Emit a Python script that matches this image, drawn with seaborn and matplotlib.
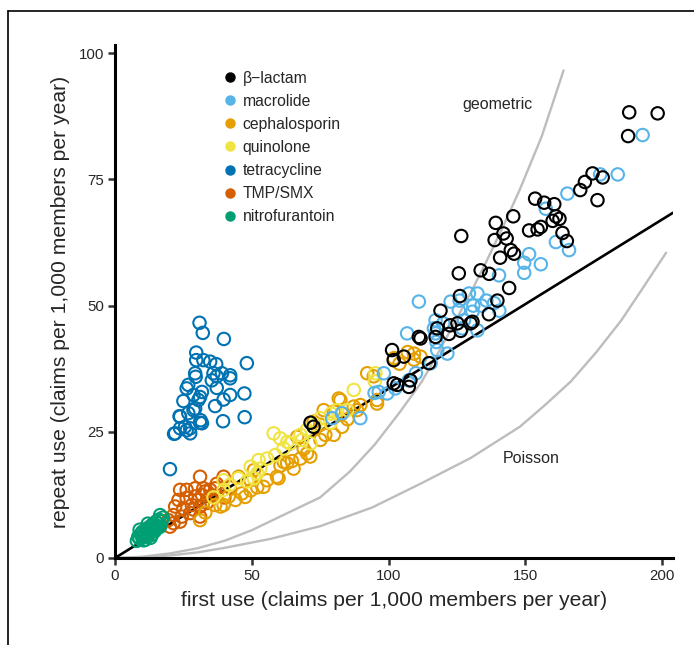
import numpy as np
import pandas as pd
import matplotlib
matplotlib.use("Agg")
import matplotlib.pyplot as plt
from matplotlib.lines import Line2D
import seaborn as sns

sns.set_theme(style="white")
plt.rcParams["font.family"] = ["Liberation Sans", "DejaVu Sans"]

# ── DATA
drugs = ["β−lactam", "macrolide", "cephalosporin", "quinolone",
         "tetracycline", "TMP/SMX", "nitrofurantoin"]
colors = ["#000000", "#56B4E9", "#E69F00", "#F0E442", "#0072B2", "#D55E00", "#009E73"]

tetra_x = [30.9, 32.1, 39.8, 29.7, 29.7, 32.3, 34.8, 37.0, 48.2, 29.3, 29.5, 36.0, 37.2, 39.1, 42.1, 42.1,
           26.8, 26.2, 31.8, 31.1, 28.7, 37.2, 42.1, 47.3, 39.7, 36.6, 25.0, 29.3, 23.6, 26.8, 31.1, 31.3,
           39.5, 47.4, 23.8, 26.2, 22.0, 27.5, 21.6, 25.6, 27.5, 31.8, 23.8, 28.7, 20.1, 30.5, 35.4]
tetra_y = [46.6, 44.6, 43.4, 40.7, 39.2, 39.2, 38.9, 38.4, 38.6, 36.6, 35.9, 36.6, 36.0, 36.6, 36.2, 35.6,
           34.3, 33.6, 32.9, 31.9, 32.3, 33.7, 32.3, 32.6, 31.4, 30.1, 31.1, 29.6, 28.1, 28.7, 26.8, 27.3,
           27.1, 27.9, 25.7, 25.3, 24.7, 24.7, 24.6, 26.0, 25.7, 26.7, 28.0, 29.3, 17.6, 31.3, 35.2]

tmp_x = [31.1, 23.8, 26.2, 29.3, 32.3, 34.8, 39.7, 23.2, 26.2, 29.3, 31.8, 34.8, 22.0, 25.0, 28.1, 31.1,
         33.6, 21.4, 24.4, 27.5, 31.1, 21.4, 23.8, 20.1, 28.7, 30.5, 33.0, 36.6, 37.2, 40.0, 42.0, 19.5]
tmp_y = [16.1, 13.5, 13.5, 13.8, 13.8, 13.5, 16.1, 11.5, 11.9, 12.2, 12.5, 12.2, 10.2, 9.8, 10.5, 10.2,
         10.9, 8.5, 8.2, 8.9, 8.2, 6.9, 7.2, 6.2, 9.6, 11.5, 13.2, 13.8, 14.7, 12.0, 14.0, 7.5]

ceph_x = [31.1, 36.6, 39.7, 44.0, 47.6, 41.6, 49.5, 55.6, 59.8, 62.9, 64.7, 71.4, 75.1, 76.9, 80.0, 81.8,
          80.0, 83.0, 87.3, 89.7, 95.8, 72.6, 75.0, 67.8, 69.0, 60.5, 50.8, 46.4, 38.6, 45.2, 92.2, 94.6,
          109.3, 111.7, 109.3, 102.0, 95.8, 88.5, 82.4, 76.3, 83.0, 85.0, 70.2, 61.7, 65.3, 59.2, 54.3, 52.0,
          49.6, 66.6, 104.0, 107.0, 33.0]
ceph_y = [7.5, 10.5, 10.5, 11.5, 12.1, 12.2, 15.4, 15.4, 15.8, 18.8, 19.2, 20.1, 23.4, 24.4, 24.4, 31.6,
          29.0, 28.6, 30.0, 30.3, 31.3, 27.0, 26.4, 19.7, 21.6, 18.3, 17.4, 12.8, 10.2, 16.1, 36.6, 36.0,
          40.5, 39.9, 39.3, 39.6, 30.6, 29.3, 31.3, 29.3, 26.0, 27.5, 20.7, 19.0, 17.7, 16.1, 14.1, 14.0,
          13.4, 24.0, 38.5, 40.8, 9.0]

quin_x = [58.0, 87.3, 60.4, 67.8, 63.0, 61.6, 58.6, 55.6, 52.5, 53.1, 50.7, 48.3, 45.1, 39.7, 39.7, 75.1,
          78.8, 81.2, 84.9, 73.3, 70.2, 68.4, 95.2, 71.5, 79.0, 64.0, 49.6, 52.0, 95.0, 42.0, 36.0]
quin_y = [24.7, 33.3, 23.7, 24.4, 23.0, 21.7, 20.4, 19.7, 19.4, 17.7, 15.8, 15.2, 15.8, 15.4, 13.5, 27.7,
          26.8, 29.3, 29.3, 26.4, 25.4, 23.4, 36.6, 22.7, 28.6, 22.7, 18.1, 16.8, 35.0, 14.5, 12.0]

macro_x = [192.9, 183.8, 177.4, 165.4, 157.5, 161.2, 166.0, 151.4, 155.7, 149.6, 149.6, 140.4, 129.4, 132.5,
           122.7, 126.0, 131.0, 134.0, 135.8, 138.6, 140.5, 125.7, 130.7, 117.2, 116.6, 120.0, 127.6, 132.5,
           126.9, 111.1, 106.8, 117.2, 121.5, 117.8, 115.4, 110.0, 107.4, 102.5, 99.5, 96.4, 98.3, 89.7,
           79.4, 83.0, 94.9, 117.5]
macro_y = [83.8, 76.0, 76.0, 72.2, 69.2, 62.6, 61.0, 60.2, 58.2, 58.5, 56.5, 56.0, 52.4, 52.4,
           50.8, 51.0, 50.0, 50.0, 51.0, 50.5, 49.0, 49.1, 48.8, 47.1, 45.5, 46.5, 47.1, 45.1,
           45.5, 50.8, 44.5, 44.5, 40.5, 41.2, 38.6, 36.6, 35.2, 33.6, 32.6, 32.9, 36.6, 27.7,
           27.7, 28.7, 32.7, 42.8]

blact_x = [188.0, 198.4, 187.6, 174.6, 178.3, 171.8, 170.1, 176.4, 153.6, 156.9, 160.6, 161.2, 162.5, 160.0,
           155.7, 154.5, 151.4, 163.6, 165.2, 145.6, 139.2, 142.0, 138.8, 143.2, 126.6, 144.7, 145.9, 140.8,
           133.7, 136.8, 125.7, 144.1, 126.1, 139.8, 119.0, 136.7, 130.7, 122.5, 117.8, 126.4, 111.7, 111.1,
           101.3, 105.6, 101.9, 114.8, 117.2, 122.1, 125.2, 130.0, 72.6, 71.5, 101.9, 107.4, 103.2, 108.0]
blact_y = [88.3, 88.1, 83.6, 76.2, 75.4, 74.5, 72.9, 70.9, 71.2, 70.4, 70.1, 67.7, 67.2, 66.8,
           65.6, 65.1, 64.9, 64.4, 62.8, 67.7, 66.4, 64.3, 63.0, 63.3, 63.8, 61.0, 60.3, 59.5,
           57.0, 56.3, 56.4, 53.5, 51.9, 51.0, 49.0, 48.3, 46.8, 46.1, 45.5, 45.0, 43.5, 43.8,
           41.2, 39.9, 39.2, 38.6, 43.8, 44.4, 46.5, 46.5, 26.0, 26.8, 34.6, 33.9, 34.3, 35.2]

nitro_x = [8.0, 8.5, 9.0, 9.5, 10.0, 10.0, 10.5, 11.0, 11.0, 11.5, 12.0, 12.0, 12.5, 13.0, 13.0, 13.5,
           14.0, 14.0, 14.5, 15.0, 15.0, 15.5, 16.0, 16.0, 16.5, 17.0, 17.5, 9.0, 12.0, 10.5, 13.0, 16.5]
nitro_y = [3.4, 4.2, 3.8, 4.8, 4.0, 5.2, 4.5, 3.6, 5.0, 5.8, 4.4, 5.4, 4.9, 5.6, 6.3, 4.6,
           5.9, 6.8, 5.3, 6.4, 7.2, 5.9, 6.8, 7.6, 6.2, 7.3, 8.0, 5.6, 6.8, 3.5, 4.0, 8.5]

# model curves (traced) and fitted line
geom_x = [0, 10, 20, 30, 40, 50, 61.5, 75, 86, 95, 104, 112, 118, 124, 130, 136, 142, 148, 156, 164]
geom_y = [0, 0.25, 0.9, 1.9, 3.4, 5.5, 8.5, 12.0, 17.2, 22.5, 28.8, 34.8, 40.5, 46.5, 52.5, 59.0,
          65.8, 73.0, 83.5, 96.6]
pois_x = [0, 10, 20, 30, 40, 57, 75, 94, 112, 130, 148, 157, 166.7, 176, 185, 193, 201.5]
pois_y = [0, 0.12, 0.5, 1.1, 2.0, 3.8, 6.3, 10.0, 14.8, 19.8, 26.0, 30.2, 35.0, 40.8, 47.0, 53.5, 60.5]
fit_x = [0, 204]
fit_y = [0, 68.4]

groups = [("tetracycline", tetra_x, tetra_y), ("TMP/SMX", tmp_x, tmp_y),
          ("cephalosporin", ceph_x, ceph_y), ("quinolone", quin_x, quin_y),
          ("macrolide", macro_x, macro_y), ("β−lactam", blact_x, blact_y),
          ("nitrofurantoin", nitro_x, nitro_y)]
df = pd.concat([pd.DataFrame({"first": x, "repeat": y, "drug": d}) for d, x, y in groups],
               ignore_index=True)

# ── PLOT
fig = plt.figure(figsize=(6.94, 6.45), dpi=100)
ax = fig.add_axes([0.1657, 0.1349, 0.804, 0.795])

ax.plot(geom_x, geom_y, color="#bdbdbd", lw=1.7, zorder=1, solid_joinstyle="round")
ax.plot(pois_x, pois_y, color="#bdbdbd", lw=1.7, zorder=1, solid_joinstyle="round")
ax.plot(fit_x, fit_y, color="black", lw=1.9, zorder=2)

sns.scatterplot(data=df, x="first", y="repeat", hue="drug", hue_order=drugs,
                palette=dict(zip(drugs, colors)), s=80, linewidth=1.5, legend=False,
                ax=ax, zorder=3)
pts = ax.collections[-1]
pts.set_edgecolors(pts.get_facecolors())
pts.set_facecolors("none")

ax.set_xlim(0, 204)
ax.set_ylim(0, 101.6)
ax.set_xticks([0, 50, 100, 150, 200])
ax.set_yticks([0, 25, 50, 75, 100])
ax.set_xlabel("first use (claims per 1,000 members per year)", fontsize=15.2, labelpad=6)
ax.set_ylabel("repeat use (claims per 1,000 members per year)", fontsize=15.2, labelpad=6)
ax.tick_params(axis="both", direction="out", length=5, width=1.8, color="#333333",
               labelsize=10.8, pad=3, bottom=True, left=True)
sns.despine(ax=ax)
for sp in ["left", "bottom"]:
    ax.spines[sp].set_linewidth(2.2)
    ax.spines[sp].set_color("black")

ax.text(140, 89.9, "geometric", fontsize=11.5, ha="center", va="center")
ax.text(152, 19.8, "Poisson", fontsize=11.5, ha="center", va="center")

handles = [Line2D([], [], ls="", marker="o", ms=6.5, color=c) for c in colors]
ax.legend(handles, drugs, loc="upper left", bbox_to_anchor=(0.178, 0.962), frameon=False,
          fontsize=11.3, handletextpad=0.2, labelspacing=0.51, handlelength=1.2,
          borderaxespad=0)

# frame lines (top and left) of the panel
fig.add_artist(Line2D([0.011, 1.0], [0.983, 0.983], color="black", lw=1.2))
fig.add_artist(Line2D([0.011, 0.011], [0.0, 0.983], color="black", lw=1.2))

fig.savefig("out.png", dpi=100)
